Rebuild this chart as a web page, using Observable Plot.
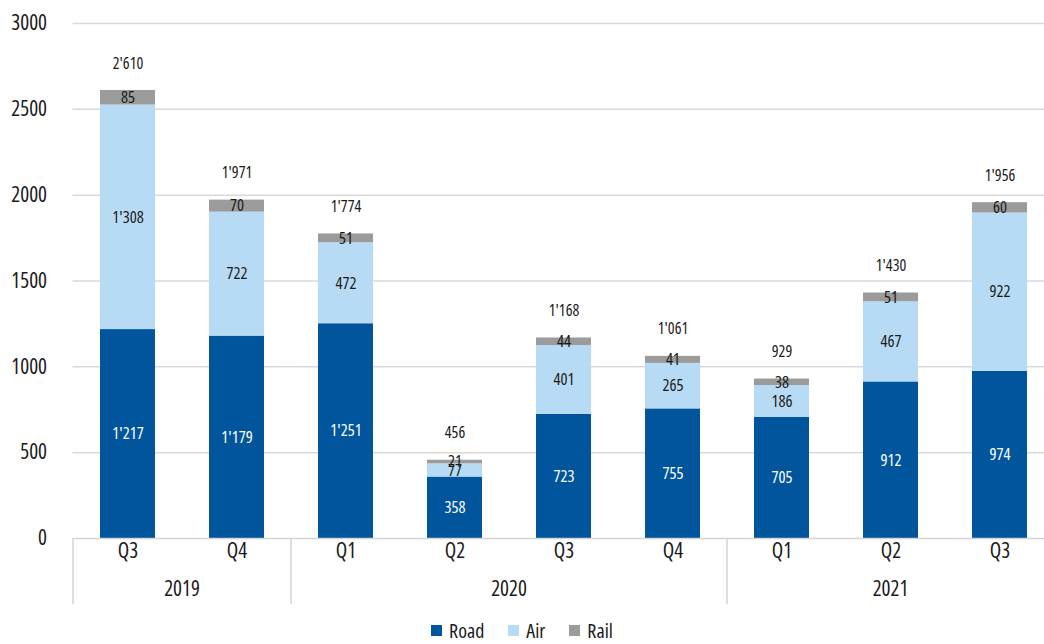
<!DOCTYPE html>
<html><head><meta charset="utf-8">
<script src="https://cdn.jsdelivr.net/npm/d3@7"></script>
<script src="https://cdn.jsdelivr.net/npm/@observablehq/plot@0.6"></script>
<style>
body{margin:0;background:#fff;font-family:"Open Sans",sans-serif;font-stretch:75%;}
#chart{width:1044px;}
#chart svg text{font-stretch:75%;}
.lg-swatches{justify-content:center !important;margin:-3px 0 0 0 !important;min-height:22px !important;font-size:20px !important;font-family:"Open Sans",sans-serif !important;font-stretch:75% !important;color:#1a1a1a;}
.lg-swatch{margin-right:24px !important;}
.lg-swatch:last-child{margin-right:0 !important;}
.lg-swatch > svg{margin-right:7px !important;}
</style></head><body><div id="chart"></div>
<script>
const FONT = '"Open Sans",sans-serif';
const quarters = ["Q3","Q4","Q1","Q2","Q3","Q4","Q1","Q2","Q3"];
const years    = ["2019","2019","2020","2020","2020","2020","2021","2021","2021"];
const road  = [1217,1179,1251,358,723,755,705,912,974];
const air   = [1308,722,472,77,401,265,186,467,922];
const rail  = [85,70,51,21,44,41,38,51,60];
const total = [2610,1971,1774,456,1168,1061,929,1430,1956];
const modes  = ["Road","Air","Rail"];
const colors = ["#00559c","#b7dbf5","#9b9b9b"];
const yTicks = [0,500,1000,1500,2000,2500,3000];

const keys = quarters.map((q,i)=>years[i]+" "+q);
const data = [];
keys.forEach((k,i)=>{
  data.push({key:k,mode:"Road",value:road[i]},{key:k,mode:"Air",value:air[i]},{key:k,mode:"Rail",value:rail[i]});
});
const totals = keys.map((k,i)=>({key:k,total:total[i]}));
const fmt = d3.formatLocale({decimal:".",thousands:"'",grouping:[3],currency:["",""]}).format(",d");
const ink = "#1a1a1a";

const plot = Plot.plot({
  width:1044, height:620, marginTop:23, marginBottom:82, marginLeft:72.5, marginRight:0,
  style:{fontFamily:FONT, color:ink, background:"#fff", overflow:"visible"},
  x:{type:"band", domain:keys, range:[72.5,1053.5], paddingInner:0.5, paddingOuter:0.25, axis:null},
  y:{domain:[0,3000]},
  color:{domain:modes, range:colors},
  marks:[
    Plot.gridY(yTicks.filter(d=>d>0), {stroke:"#d9d9d9", strokeOpacity:1, strokeWidth:1.5}),
    Plot.axisY(yTicks, {tickSize:0, tickPadding:26, fontSize:21, tickFormat:d=>String(d), label:null, fill:ink}),
    Plot.barY(data, Plot.stackY({x:"key", y:"value", fill:"mode", order:modes})),
    Plot.ruleY([0], {stroke:"#d4d4d4", strokeWidth:1.5}),
    Plot.text(data, Plot.stackY({x:"key", y:"value", z:"mode", order:modes, text:d=>d.mode==="Road"?fmt(d.value):"", fill:"white", fontSize:16.5})),
    Plot.text(data, Plot.stackY({x:"key", y:"value", z:"mode", order:modes, text:d=>d.mode!=="Road"?fmt(d.value):"", fill:ink, fontSize:16.5})),
    Plot.text(totals, {x:"key", y:"total", text:d=>fmt(d.total), dy:-27, fontSize:16, fill:ink}),
    Plot.text(keys, {x:d=>d, text:(d,i)=>quarters[i], frameAnchor:"bottom", dy:19, fontSize:21, fill:ink})
  ]
});

// year group labels and separators, positioned through the plot's own scales
const xs = plot.scale("x"), ys = plot.scale("y");
const bw = xs.bandwidth, step = xs.step;
const y0 = ys.apply(0);
const groups = [];
years.forEach((y,i)=>{
  const g = groups.find(g=>g.year===y);
  if (g) g.last = keys[i]; else groups.push({year:y, first:keys[i], last:keys[i]});
});
const svg = d3.select(plot);
const gg = svg.append("g");
const gap = (step-bw)/2;
const seps = groups.map(g=>xs.apply(g.first)-gap);
seps.push(xs.apply(groups[groups.length-1].last)+bw+gap);
gg.selectAll("line").data(seps).join("line")
  .attr("x1",d=>d).attr("x2",d=>d).attr("y1",y0).attr("y2",y0+66)
  .attr("stroke","#d4d4d4").attr("stroke-width",1.5);
gg.selectAll("text").data(groups).join("text")
  .attr("x",g=>(xs.apply(g.first)+xs.apply(g.last)+bw)/2)
  .attr("y",y0+51).attr("dy","0.32em").attr("text-anchor","middle")
  .attr("font-size",21).attr("fill",ink).attr("font-family",FONT)
  .text(g=>g.year);

const legend = Plot.legend({legend:"swatches", color:{domain:modes, range:colors}, swatchSize:11, className:"lg"});
const chart = document.getElementById("chart");
chart.appendChild(plot);
chart.appendChild(legend);
</script></body></html>
